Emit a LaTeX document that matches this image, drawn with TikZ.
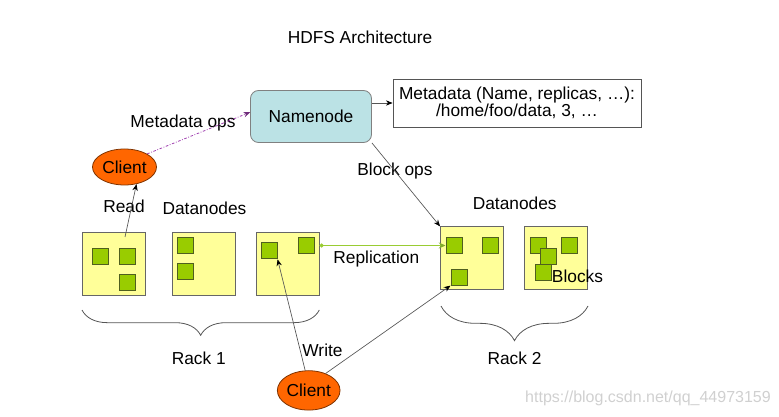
\documentclass[tikz,border=0pt]{standalone}
\usepackage{fontspec}
\setmainfont{Liberation Sans}
\usetikzlibrary{arrows.meta,decorations.pathreplacing,shapes.geometric}
\definecolor{dnfill}{HTML}{FFFF99}
\definecolor{dnline}{HTML}{666666}
\definecolor{blkfill}{HTML}{99CC00}
\definecolor{blkline}{HTML}{4F5F1F}
\definecolor{nnfill}{HTML}{BBE2E5}
\definecolor{nnline}{HTML}{808080}
\definecolor{clfill}{HTML}{FF6600}
\definecolor{clline}{HTML}{7F3300}
\definecolor{opsline}{HTML}{A040B0}
\definecolor{repline}{HTML}{99CC33}
\definecolor{conline}{HTML}{555555}
\definecolor{wmark}{HTML}{D0D0D0}
\tikzset{
  lbl/.style={inner sep=0pt, font=\fontsize{13}{15}\selectfont},
  dnbox/.style={draw=dnline, fill=dnfill, line width=0.6pt, minimum width=47.25pt, minimum height=47.25pt, inner sep=0pt},
  blk/.style={draw=blkline, fill=blkfill, line width=0.6pt, minimum width=12pt, minimum height=12pt, inner sep=0pt},
  clientnode/.style={ellipse, draw=clline, fill=clfill, line width=0.6pt, inner sep=0pt, font=\fontsize{13}{15}\selectfont},
  conn/.style={draw=conline, line width=0.5pt, -{Stealth[length=5pt,width=4pt,black]}},
  bracestyle/.style={draw=conline, line width=0.6pt, decorate, decoration={brace, mirror, amplitude=19pt}},
}
\begin{document}
\begin{tikzpicture}[x=0.75pt,y=-0.75pt]
\useasboundingbox (0,0) rectangle (779,417);
% title
\node[lbl] (title) at (360,37) {HDFS Architecture};
% namenode and metadata
\node[draw=nnline, fill=nnfill, rounded corners=6pt, line width=0.6pt, minimum width=90.75pt, minimum height=39pt, font=\fontsize{13}{15}\selectfont] (nn) at (311,116.5) {Namenode};
\node[draw=conline, fill=white, line width=0.6pt, minimum width=186pt, minimum height=36pt, align=center, inner sep=0pt, font=\fontsize{13}{13}\selectfont] (meta) at (517,103) {Metadata (Name, replicas, …):\\/home/foo/data, 3, …};
% clients
\node[clientnode, minimum width=48pt, minimum height=27pt] (c1) at (124.5,167) {Client};
\node[clientnode, minimum width=47pt, minimum height=29.5pt] (c2) at (308.7,390.4) {Client};
% rack 1 datanodes
\node[dnbox] (r1a) at (114,264) {};
\node[dnbox] (r1b) at (203.5,264) {};
\node[dnbox] (r1c) at (287.7,264) {};
\node[blk] (b11) at (100.7,256.3) {};
\node[blk] (b12) at (126.9,256.3) {};
\node[blk] (b13) at (126.9,282.3) {};
\node[blk] (b21) at (185,245.7) {};
\node[blk] (b22) at (185,271.7) {};
\node[blk] (b31) at (269.2,250.9) {};
\node[blk] (b32) at (306.3,245.5) {};
% rack 2 datanodes
\node[dnbox] (r2a) at (472,258.3) {};
\node[dnbox] (r2b) at (556.3,258.3) {};
\node[blk] (b41) at (453.9,245.5) {};
\node[blk] (b42) at (490.5,245.5) {};
\node[blk] (b43) at (458.9,277.2) {};
\node[blk] (b51) at (537.9,245.5) {};
\node[blk] (b52) at (569.5,245.5) {};
\node[blk] (b53) at (548.4,256.2) {};
\node[blk] (b54) at (543.2,272.2) {};
% labels
\node[lbl] (lops) at (183,123) {Metadata ops};
\node[lbl] (lread) at (124,206) {Read};
\node[lbl] (ldn1) at (204.5,208) {Datanodes};
\node[lbl] (lblk) at (395,171) {Block ops};
\node[lbl] (ldn2) at (514.7,203) {Datanodes};
\node[lbl] (lrep) at (376.3,259.3) {Replication};
\node[lbl] (lblocks) at (577.5,276.7) {Blocks};
\node[lbl] (lwrite) at (322.5,350) {Write};
\node[lbl] (lrack1) at (198.8,358.3) {Rack 1};
\node[lbl] (lrack2) at (514.5,358.3) {Rack 2};
\node[inner sep=0pt, text=wmark, font=\fontsize{12}{14}\selectfont] (wm) at (648,398.3) {https://blog.csdn.net/qq\_44973159};
% connectors
\draw[conn] (nn.east |- meta.west) -- (meta.west);
\draw[draw=opsline, line width=0.6pt, dash pattern=on 2pt off 1.2pt on 0.6pt off 1.2pt, -{Stealth[length=5pt,width=4pt,opsline!70!black]}] (c1.30) -- (nn.176);
\coordinate (rd) at (125,237);
\draw[conn] (rd) -- (c1.-55);
\draw[conn] (nn.south east) -- (r2a.north west);
\draw[draw=repline, line width=0.8pt, {Circle[length=3pt,repline]}-{Stealth[length=5pt,width=4.5pt,repline!85!black]}] (r1c.east |- b41.west) -- (b41.west);
\draw[conn] (c2.100) -- (b31.south east);
\draw[conn] (c2.45) -- (b43.south west);
% braces
\coordinate (br1a) at (82,310);
\coordinate (br1b) at (319.3,310);
\coordinate (br2a) at (441,306);
\coordinate (br2b) at (588,306);
\draw[bracestyle] (br1a) -- (br1b);
\draw[bracestyle, decoration={brace, mirror, amplitude=26pt}] (br2a) -- (br2b);
\end{tikzpicture}
\end{document}
